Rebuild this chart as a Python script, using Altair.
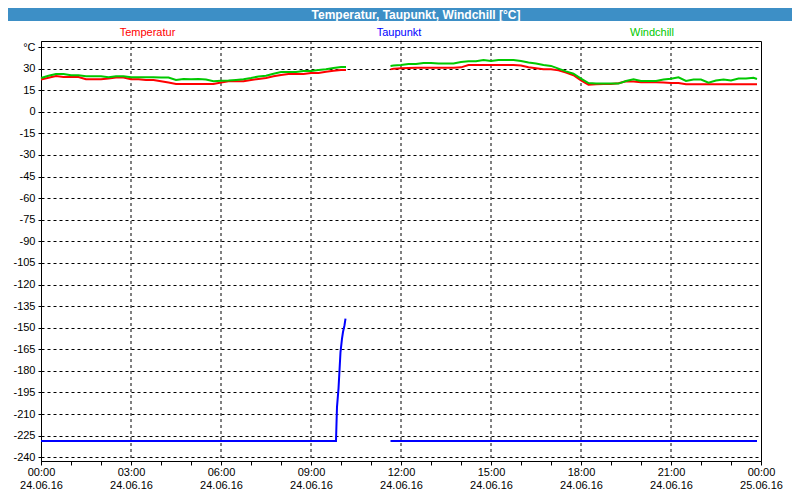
import altair as alt
import pandas as pd

# ---------------- data ----------------
SEG1_TIMES = [f"{h:02d}:{m:02d}" for h in range(0, 10) for m in (0, 15, 30, 45)] + ["10:00", "10:10"]
SEG2_TIMES = ["11:39", "11:45"] + [f"{h:02d}:{m:02d}" for h in range(12, 24) for m in (0, 15, 30, 45)] + ["23:52"]

TEMP_SEG1 = [22.4, 23.6, 24.8, 24.2, 24.2, 24.2, 22.6, 22.6, 22.6, 23.2, 23.8, 23.8,
             22.6, 22.6, 22.1, 22.1, 21.2, 20.3, 19.4, 19.4, 19.4, 19.4, 19.4, 19.4,
             20.3, 21.2, 21.2, 21.2, 22.1, 22.8, 23.5, 24.7, 25.6, 26.3, 26.3, 26.3,
             27.0, 27.0, 27.9, 28.6, 29.1, 29.1]
WIND_SEG1 = [23.5, 25.0, 26.3, 26.3, 25.4, 25.4, 24.7, 24.7, 24.7, 24.0, 24.7, 24.7,
             24.0, 24.0, 24.0, 24.0, 23.8, 23.8, 22.1, 22.8, 22.6, 22.8, 22.4, 21.2,
             21.5, 21.7, 22.1, 22.6, 23.5, 24.6, 25.1, 26.5, 27.7, 27.7, 27.7, 28.4,
             28.4, 29.1, 29.5, 30.5, 31.2, 31.2]
TEMP_SEG2 = [29.5, 30.0,
             30.3, 30.5, 30.7, 30.7,
             30.7, 30.7, 30.7, 30.7,
             30.9, 32.5, 32.5, 32.5,
             32.5, 32.5, 32.5, 32.5,
             32.1, 30.9, 30.2, 29.5,
             29.5, 28.8, 27.2, 25.4,
             21.9, 18.9, 19.2, 19.4,
             19.4, 19.8, 21.2, 21.0,
             20.5, 20.5, 20.5, 20.4,
             20.0, 20.0, 19.1, 19.1,
             19.1, 19.1, 19.1, 19.1,
             19.1, 19.1, 19.1, 19.1,
             19.1]
WIND_SEG2 = [31.9, 32.2,
             32.5, 33.2, 33.2, 33.9,
             33.9, 33.5, 33.5, 33.5,
             34.6, 35.1, 35.1, 36.0,
             35.3, 36.0, 36.0, 36.0,
             35.3, 34.2, 33.5, 32.5,
             31.9, 30.0, 28.1, 26.5,
             23.1, 20.0, 19.6, 19.6,
             19.6, 19.6, 21.4, 22.6,
             21.4, 21.4, 21.4, 22.4,
             23.0, 24.0, 21.5, 22.4,
             22.4, 20.3, 21.7, 22.4,
             21.7, 23.1, 23.1, 23.6,
             22.8]

DEW_SEG1_TIMES = ["00:00", "09:50", "09:51", "09:52", "09:55", "09:57", "09:59", "10:02", "10:04", "10:07", "10:09"]
DEW_SEG1 = [-228.7, -228.7, -216.6, -205.0, -192.3, -179.6, -166.9, -157.6, -153.0, -148.3, -143.7]
DEW_SEG2_TIMES = ["11:39", "23:52"]
DEW_SEG2 = [-228.7, -228.7]

SERIES = ["Temperatur", "Taupunkt", "Windchill"]
COLORS = ["#ff0000", "#0000ff", "#00c800"]

Y_TICKS = list(range(-240, 46, 15))
X_TICKS = list(range(0, 25))
GRID_HOURS = [3, 6, 9, 12, 15, 18, 21]

TITLE = "Temperatur, Taupunkt, Windchill [°C]"


def to_hours(t):
    h, m = t.split(":")
    return int(h) + int(m) / 60.0


def frame(times, values, seg):
    return pd.DataFrame({"h": [to_hours(t) for t in times], "v": values, "seg": seg})


temp_df = pd.concat([frame(SEG1_TIMES, TEMP_SEG1, 1), frame(SEG2_TIMES, TEMP_SEG2, 2)])
wind_df = pd.concat([frame(SEG1_TIMES, WIND_SEG1, 1), frame(SEG2_TIMES, WIND_SEG2, 2)])
dew_df = pd.concat([frame(DEW_SEG1_TIMES, DEW_SEG1, 1), frame(DEW_SEG2_TIMES, DEW_SEG2, 2)])

FONT = "Liberation Sans"
W, H = 720, 420

x_label_expr = (
    "datum.value % 3 != 0 ? '' : "
    "[(datum.value % 24 < 10 ? '0' : '') + (datum.value % 24) + ':00', "
    "datum.value < 24 ? '24.06.16' : '25.06.16']"
)

x_scale = alt.Scale(domain=[0, 24], nice=False, zero=False)
y_scale = alt.Scale(domain=[-242.6, 49.2], nice=False, zero=False)

x_axis = alt.Axis(values=X_TICKS, labelExpr=x_label_expr, grid=False, title=None,
                  labelFont=FONT, labelFontSize=11, labelColor="black",
                  labelBaseline="top", labelLineHeight=13, labelPadding=1,
                  labelOverlap=False, labelFlush=False, labelAngle=0,
                  tickSize=4, tickColor="black", domainColor="black")
y_axis = alt.Axis(values=Y_TICKS, labelExpr="datum.value == 45 ? '°C' : datum.value",
                  grid=True, gridDash=[3, 3], gridColor="black", gridOpacity=1,
                  title=None, labelFont=FONT, labelFontSize=11, labelColor="black",
                  labelPadding=3, labelOverlap=False, labelFlush=False,
                  tickSize=3, tickColor="black", domainColor="black")


def line(df, color):
    return alt.Chart(df).mark_line(color=color, strokeWidth=2).encode(
        x=alt.X("h:Q", scale=x_scale, axis=x_axis),
        y=alt.Y("v:Q", scale=y_scale, axis=y_axis),
        detail="seg:N",
    )


vgrid = alt.Chart(pd.DataFrame({"h": GRID_HOURS})).mark_rule(
    color="black", strokeDash=[3, 3], strokeWidth=1
).encode(x=alt.X("h:Q", scale=x_scale, axis=x_axis))

one = pd.DataFrame({"a": [0]})
title_bar = alt.Chart(one).mark_rect(color="#3d8fc6").encode(
    x=alt.value(-33), x2=alt.value(751), y=alt.value(-33), y2=alt.value(-20)
)
title_text = alt.Chart(one).mark_text(
    text=TITLE, color="white", font=FONT, fontSize=12, fontWeight="bold",
    align="center", baseline="middle"
).encode(x=alt.value(375), y=alt.value(-26.5))

legend_x = [106.5, 358, 611]
legend_layers = [
    alt.Chart(one).mark_text(text=s, color=c, font=FONT, fontSize=11,
                             align="center", baseline="middle").encode(
        x=alt.value(lx), y=alt.value(-8.5))
    for s, c, lx in zip(SERIES, COLORS, legend_x)
]

chart = alt.layer(
    vgrid,
    line(temp_df, COLORS[0]),
    line(wind_df, COLORS[2]),
    line(dew_df, COLORS[1]),
    title_bar,
    title_text,
    *legend_layers,
).properties(
    width=W, height=H,
    padding={"left": 33, "top": 33, "right": 31, "bottom": 31},
    autosize=alt.AutoSizeParams(type="none"),
    background="white",
).configure_view(stroke="black", strokeWidth=1)

chart.save("out.html", embed_options={"renderer": "svg", "actions": False})
